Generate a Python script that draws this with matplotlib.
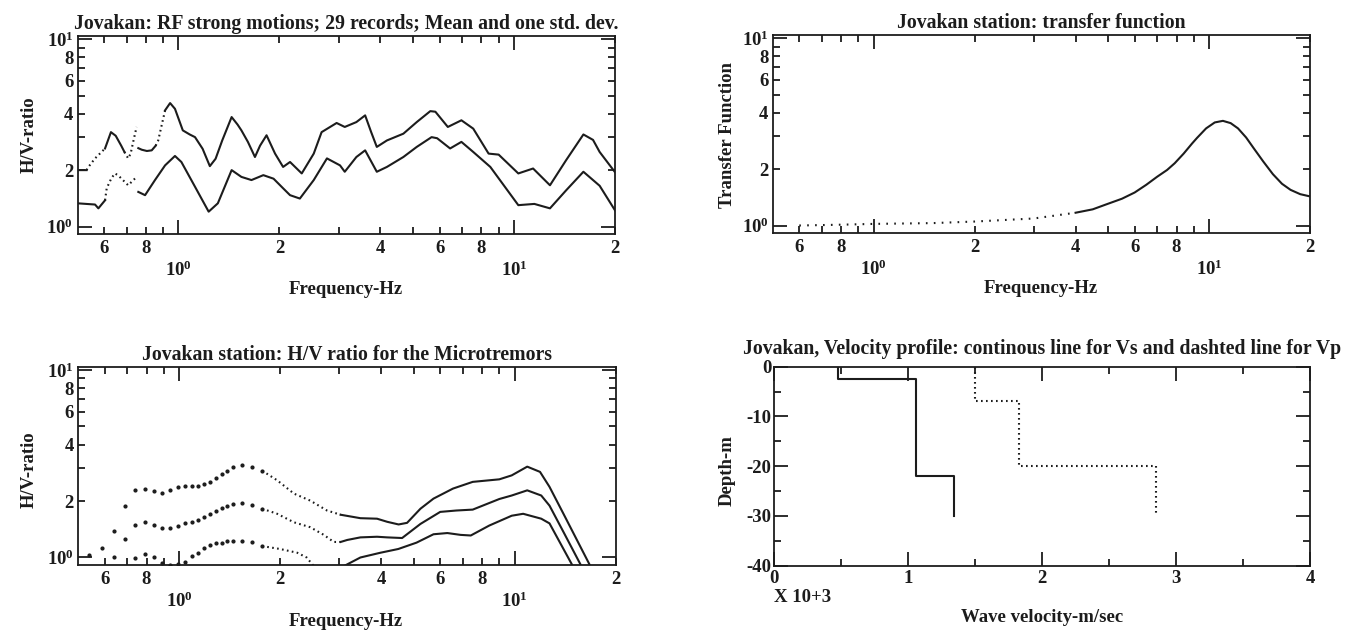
import numpy as np
import matplotlib
matplotlib.use("Agg")
import matplotlib.pyplot as plt
from matplotlib.ticker import FixedLocator, FuncFormatter

nan = np.nan

# ---------------- data: panel 1 (RF strong motions, mean +/- one std) ----------------
rf_up_f = [0.50, 0.532, nan, 0.604, 0.629, 0.65, 0.675, 0.69, nan, 0.759, 0.777, 0.805, 0.832, 0.855, nan,
           0.912, 0.944, 0.976, 1.03, 1.08, 1.12, 1.18, 1.24, 1.29, 1.35, 1.44, 1.50, 1.54, 1.61, 1.69, 1.75,
           1.83, 1.94, 2.05, 2.15, 2.33, 2.53, 2.67, 2.96, 3.13, 3.39, 3.60, 3.75, 3.90, 4.18, 4.68, 5.13, 5.63,
           5.83, 6.35, 6.97, 7.56, 8.4, 9.0, 10.3, 11.4, 12.8, 14.3, 16.1, 17.2, 18.0, 20.0]
rf_up_v = [2.0, 2.0, nan, 2.61, 3.19, 3.05, 2.7, 2.5, nan, 2.62, 2.57, 2.53, 2.55, 2.7, nan,
           4.17, 4.56, 4.25, 3.26, 3.1, 3.0, 2.6, 2.1, 2.3, 2.88, 3.84, 3.5, 3.26, 2.83, 2.35, 2.7,
           3.07, 2.45, 2.08, 2.21, 1.92, 2.45, 3.19, 3.57, 3.40, 3.61, 3.92, 3.2, 2.66, 2.88, 3.13, 3.61, 4.13,
           4.1, 3.40, 3.69, 3.33, 2.45, 2.42, 1.92, 2.04, 1.66, 2.26, 3.1, 2.9, 2.5, 1.95]
rf_up_dot_f = [0.532, 0.539, 0.564, 0.604, nan, 0.69, 0.708, 0.72, 0.735, 0.75, nan, 0.855, 0.87, 0.912]
rf_up_dot_v = [2.0, 2.08, 2.31, 2.61, nan, 2.5, 2.31, 2.45, 2.9, 3.4, nan, 2.7, 2.88, 4.17]

rf_lo_f = [0.50, 0.564, 0.577, 0.604, nan, 0.759, 0.795, 0.851, 0.912, 0.976, 1.02, 1.12, 1.23, 1.31, 1.44,
           1.54, 1.65, 1.79, 1.92, 2.05, 2.15, 2.30, 2.53, 2.77, 3.03, 3.13, 3.39, 3.60, 3.90, 4.18, 4.68, 5.13,
           5.68, 5.90, 6.45, 6.97, 7.56, 8.5, 10.3, 11.5, 12.8, 14.3, 16.1, 18.0, 20.0]
rf_lo_v = [1.33, 1.31, 1.25, 1.38, nan, 1.53, 1.47, 1.77, 2.12, 2.38, 2.21, 1.63, 1.20, 1.33, 2.0,
           1.84, 1.77, 1.88, 1.80, 1.60, 1.47, 1.41, 1.77, 2.31, 2.12, 1.96, 2.35, 2.55, 1.96, 2.08, 2.35, 2.66,
           3.0, 2.96, 2.61, 2.83, 2.5, 2.08, 1.30, 1.32, 1.25, 1.56, 1.96, 1.65, 1.22]
rf_lo_dot_f = [0.604, 0.611, 0.63, 0.646, 0.66, 0.708, 0.75]
rf_lo_dot_v = [1.38, 1.6, 1.8, 1.92, 1.88, 1.66, 1.84]

# ---------------- data: panel 2 (transfer function) ----------------
tf_f = [0.6, 0.8, 1.0, 1.5, 2.0, 3.0, 4.0, 4.5, 4.9, 5.5, 6.0, 6.5, 7.0, 7.5, 7.9, 8.4, 8.9, 9.2, 9.8,
        10.4, 11.0, 11.6, 12.2, 12.9, 13.6, 14.5, 15.5, 16.5, 17.5, 18.7, 20.0]
tf_v = [1.0, 1.01, 1.02, 1.03, 1.05, 1.09, 1.17, 1.22, 1.29, 1.39, 1.50, 1.65, 1.82, 1.98, 2.15, 2.42, 2.74,
        2.93, 3.3, 3.55, 3.62, 3.52, 3.3, 2.95, 2.58, 2.2, 1.88, 1.67, 1.55, 1.47, 1.43]
tf_dotted_until = 4.0   # Hz: dotted below, solid above

# ---------------- data: panel 3 (microtremor H/V: mean +/- std) ----------------
mt_dot_f = [0.54, 0.59, 0.64, 0.69, 0.74, 0.79, 0.84, 0.89, 0.94, 0.99, 1.04, 1.09, 1.14, 1.19, 1.24,
            1.29, 1.34, 1.39, 1.45, 1.54, 1.65, 1.77]
mt_up_dot = [1.03, 1.12, 1.38, 1.89, 2.28, 2.33, 2.25, 2.22, 2.28, 2.38, 2.41, 2.41, 2.41, 2.45, 2.53,
             2.66, 2.77, 2.90, 3.02, 3.11, 3.05, 2.90]
mt_mid_dot = [nan, nan, 1.00, 1.25, 1.49, 1.55, 1.49, 1.44, 1.44, 1.47, 1.53, 1.55, 1.59, 1.64, 1.71,
              1.78, 1.84, 1.89, 1.93, 1.95, 1.91, 1.82]
mt_low_dot = [nan, nan, nan, nan, 0.99, 1.04, 1.00, 0.94, 0.91, 0.92, 0.95, 1.02, 1.06, 1.12, 1.16,
              1.19, 1.20, 1.22, 1.22, 1.22, 1.21, 1.15]

mt_up_f = [1.77, 1.96, 2.2, 2.46, 2.76, 3.03, 3.47, 3.89, 4.17, 4.51, 4.78, 5.24, 5.73, 6.55, 7.5, 9.0,
           9.8, 10.9, 11.9, 12.7, 14.0, 16.7]
mt_up_v = [2.90, 2.58, 2.19, 2.01, 1.78, 1.69, 1.62, 1.61, 1.55, 1.50, 1.53, 1.82, 2.06, 2.33, 2.53, 2.61,
           2.74, 3.05, 2.86, 2.38, 1.70, 0.92]
mt_mid_f = [1.77, 1.96, 2.2, 2.46, 2.7, 2.89, 3.03, 3.17, 3.47, 3.89, 4.17, 4.62, 5.24, 6.0, 6.7, 7.5,
            9.0, 9.8, 10.9, 12.0, 12.7, 14.0, 15.7]
mt_mid_v = [1.82, 1.71, 1.54, 1.45, 1.32, 1.21, 1.21, 1.24, 1.28, 1.29, 1.28, 1.27, 1.51, 1.75, 1.78, 1.80,
            2.05, 2.14, 2.28, 2.14, 1.89, 1.36, 0.92]
mt_low_f = [1.77, 2.0, 2.25, 2.4, 2.52, nan, 3.1, 3.47, 3.98, 4.5, 5.1, 5.73, 6.3, 6.9, 7.4, 8.4, 9.8,
            10.6, 12.0, 12.7, 14.8]
mt_low_v = [1.15, 1.11, 1.06, 1.0, 0.90, nan, 0.90, 1.0, 1.06, 1.11, 1.20, 1.33, 1.35, 1.32, 1.31, 1.48,
            1.67, 1.71, 1.61, 1.52, 0.92]
mt_dotted_until = 3.03  # Hz

# ---------------- data: panel 4 (velocity profile) ----------------
vs_layer_top = [0, -2.5, -22]
vs_values = [480, 1060, 1340]
vs_bottom = -30
vp_layer_top = [0, -7, -20]
vp_values = [1500, 1830, 2850]
vp_bottom = -30

# ---------------- text ----------------
titles = ["Jovakan: RF strong motions; 29 records; Mean and one std. dev.",
          "Jovakan station: transfer function",
          "Jovakan station: H/V ratio for the Microtremors",
          "Jovakan, Velocity profile: continous line for Vs and dashted line for Vp"]
ylabels = ["H/V-ratio", "Transfer Function", "H/V-ratio", "Depth-m"]
xlabels = ["Frequency-Hz", "Frequency-Hz", "Frequency-Hz", "Wave velocity-m/sec"]

X_MAJOR = [1, 10]
X_MINOR = [0.6, 0.7, 0.8, 0.9, 2, 3, 4, 5, 6, 7, 8, 9, 20]
X_MINOR_LABELED = [0.6, 0.8, 2, 4, 6, 8, 20]
Y_MAJOR = [1, 10]
Y_MINOR = [2, 3, 4, 5, 6, 7, 8, 9]
Y_MINOR_LABELED = [2, 4, 6, 8]

# ---------------- style ----------------
FONT = "Liberation Serif"
FS = 13.5
TFS = 14.2
plt.rcParams.update({
    "font.family": FONT,
    "font.weight": "bold",
    "font.size": FS,
    "mathtext.fontset": "custom",
    "mathtext.rm": FONT + ":bold",
    "mathtext.it": FONT + ":bold",
    "mathtext.bf": FONT + ":bold",
    "mathtext.default": "rm",
    "axes.unicode_minus": False,
    "axes.linewidth": 1.3,
})
INK = "#1c1c1c"
W, H = 1348, 630
fig = plt.figure(figsize=(W / 100, H / 100), dpi=100)


def box(left, top, right, bottom):
    return [left / W, 1 - bottom / H, (right - left) / W, (bottom - top) / H]


def digit_label(v):
    e = np.floor(np.log10(v) + 1e-9)
    return str(int(round(v / 10 ** e)))


def common_ticks(ax):
    ax.tick_params(which="both", direction="in", top=True, right=True, colors=INK, width=1.3,
                   labelsize=FS)
    ax.tick_params(which="major", length=10)
    ax.tick_params(which="minor", length=5)
    for s in ax.spines.values():
        s.set_color(INK)


def log_axes(ax):
    ax.set_xscale("log")
    ax.set_yscale("log")
    ax.set_xlim(0.5, 20)
    ax.set_ylim(0.912, 10.4)
    ax.xaxis.set_major_locator(FixedLocator(X_MAJOR))
    ax.xaxis.set_minor_locator(FixedLocator(X_MINOR))
    ax.yaxis.set_major_locator(FixedLocator(Y_MAJOR))
    ax.yaxis.set_minor_locator(FixedLocator(Y_MINOR))
    pw = FuncFormatter(lambda v, p: r"$10^{%d}$" % round(np.log10(v)))
    ax.xaxis.set_major_formatter(pw)
    ax.yaxis.set_major_formatter(pw)
    ax.xaxis.set_minor_formatter(FuncFormatter(
        lambda v, p: digit_label(v) if np.any(np.isclose(v, X_MINOR_LABELED)) else ""))
    ax.yaxis.set_minor_formatter(FuncFormatter(
        lambda v, p: digit_label(v) if np.any(np.isclose(v, Y_MINOR_LABELED)) else ""))
    common_ticks(ax)
    ax.tick_params(axis="x", which="major", pad=19)
    ax.tick_params(axis="x", which="minor", pad=4)
    ax.tick_params(axis="y", which="both", pad=3)


LW = 1.5
DOT = (0, (0.8, 1.6))

# ---- panel 1
ax1 = fig.add_axes(box(77.5, 36, 615, 234))
log_axes(ax1)
ax1.plot(rf_up_f, rf_up_v, color=INK, lw=LW)
ax1.plot(rf_up_dot_f, rf_up_dot_v, color=INK, lw=LW, ls=DOT)
ax1.plot(rf_lo_f, rf_lo_v, color=INK, lw=LW)
ax1.plot(rf_lo_dot_f, rf_lo_dot_v, color=INK, lw=LW, ls=DOT)

# ---- panel 2
ax2 = fig.add_axes(box(772.7, 35, 1310, 233))
log_axes(ax2)
tf_f_a = np.array(tf_f)
tf_v_a = np.array(tf_v)
m = tf_f_a <= tf_dotted_until
ax2.plot(tf_f_a[m], tf_v_a[m], color=INK, lw=LW, ls=(0, (0.8, 3.0)))
m2 = tf_f_a >= tf_dotted_until
ax2.plot(tf_f_a[m2], tf_v_a[m2], color=INK, lw=LW)

# ---- panel 3
ax3 = fig.add_axes(box(78, 366.7, 615.7, 565))
log_axes(ax3)
for arr in (mt_up_dot, mt_mid_dot, mt_low_dot):
    ax3.plot(mt_dot_f, arr, ls="none", marker="o", ms=2.0, color=INK)
for ff, vv in ((mt_up_f, mt_up_v), (mt_mid_f, mt_mid_v), (mt_low_f, mt_low_v)):
    fa = np.array(ff)
    va = np.array(vv)
    md = ~(fa > mt_dotted_until)
    ax3.plot(np.where(md, fa, nan), va, color=INK, lw=LW, ls=DOT)
    ms = ~(fa < mt_dotted_until)
    ax3.plot(np.where(ms, fa, nan), va, color=INK, lw=LW)

# ---- panel 4
ax4 = fig.add_axes(box(774, 366.7, 1310, 565.5))
ax4.set_xlim(0, 4)
ax4.set_ylim(-40, 0)


def step_path(tops, values, bottom):
    bottoms = list(tops[1:]) + [bottom]
    xs, ys = [], []
    for t, b, v in zip(tops, bottoms, values):
        xs += [v / 1000.0, v / 1000.0]
        ys += [t, b]
    return xs, ys


sx, sy = step_path(vs_layer_top, vs_values, vs_bottom)
px, py = step_path(vp_layer_top, vp_values, vp_bottom)
ax4.plot(sx, sy, color=INK, lw=LW)
ax4.plot(px, py, color=INK, lw=LW, ls=DOT)
ax4.xaxis.set_major_locator(FixedLocator([0, 1, 2, 3, 4]))
ax4.xaxis.set_minor_locator(FixedLocator([0.5, 1.5, 2.5, 3.5]))
ax4.yaxis.set_major_locator(FixedLocator([-40, -30, -20, -10, 0]))
ax4.yaxis.set_minor_locator(FixedLocator([-35, -25, -15, -5]))
ax4.xaxis.set_major_formatter(FuncFormatter(lambda v, p: "%d" % round(v)))
ax4.yaxis.set_major_formatter(FuncFormatter(lambda v, p: "%d" % round(v)))
common_ticks(ax4)
ax4.tick_params(axis="x", which="major", pad=3)
ax4.tick_params(axis="y", which="major", pad=2)

# ---- titles and labels
axes = [ax1, ax2, ax3, ax4]
title_pads = [5, 5, 5, 9]
xlabel_pos = [(346, 290), (1041, 289), (346, 621), (1042, 618)]
ylabel_pos = [(29, 135), (727, 135), (29, 470), (727, 471)]
for ax, t, tp, xl, yl, xp, yp in zip(axes, titles, title_pads, xlabels, ylabels, xlabel_pos, ylabel_pos):
    ax.set_title(t, fontsize=TFS, fontweight="bold", color=INK, pad=tp)
    fig.text(xp[0] / W, 1 - xp[1] / H, xl, ha="center", va="center", fontsize=FS, color=INK)
    fig.text(yp[0] / W, 1 - yp[1] / H, yl, ha="center", va="center", rotation=90, fontsize=FS, color=INK)

fig.text(774 / W, 1 - 597 / H, "X 10+3", ha="left", va="center", fontsize=FS, color=INK)

fig.savefig("out.png", dpi=100, facecolor="white")
